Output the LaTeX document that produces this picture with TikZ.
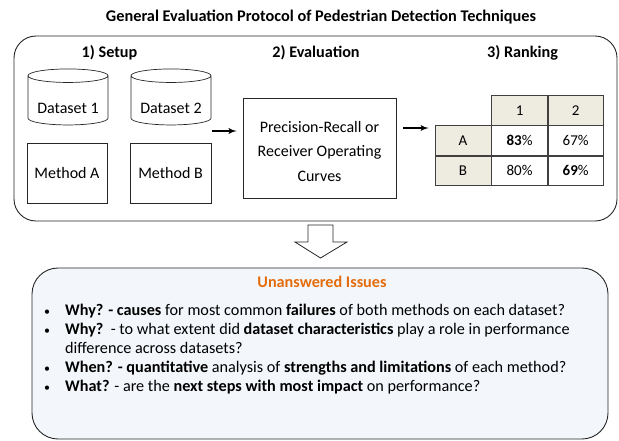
\documentclass[tikz,border=0pt]{standalone}
\usepackage{fontspec}
\setmainfont{Carlito}
\usepackage{xcolor}
\usetikzlibrary{shapes,arrows,calc,positioning}

\definecolor{cellgray}{HTML}{EEECE1}
\definecolor{issuebg}{HTML}{F3F6FB}
\definecolor{issueorange}{HTML}{E46C0A}

\tikzstyle{line} = [draw, line width=1.8pt, -latex']
\tikzstyle{frame} = [draw=black!85, line width=0.9pt, rounded corners=22pt]
\tikzstyle{plainbox} = [draw=black!85, line width=0.7pt, font=\fontsize{16}{18}\selectfont]
\tikzstyle{dbase} = [plainbox, cylinder, shape border rotate=90, aspect=0.22,
   minimum width=80pt, minimum height=56pt, inner sep=0pt]
\tikzstyle{cell} = [draw=black!75, line width=0.6pt, minimum width=56pt,
   minimum height=29.5pt, inner sep=0pt, font=\fontsize{15}{16}\selectfont]
\tikzstyle{headcell} = [cell, fill=cellgray]
\tikzstyle{heading} = [font=\bfseries\fontsize{16.2}{18}\selectfont]
\tikzstyle{issue} = [anchor=base west, inner sep=0pt, font=\fontsize{16.2}{18}\selectfont]
\tikzstyle{dot} = [anchor=base, inner sep=0pt, font=\fontsize{12}{14}\selectfont]

\begin{document}
\begin{tikzpicture}[x=1pt,y=-1pt]

\useasboundingbox (0,0) rectangle (619,440);
%\draw[help lines,step=20] (0,0) grid (619,440);

\node[font=\bfseries\fontsize{16.3}{18}\selectfont] (title) at (321,17)
   {General Evaluation Protocol of Pedestrian Detection Techniques};

% upper frame
\node[frame, minimum width=603pt, minimum height=185pt] (protocol) at (315.5,128.5) {};

\node[heading] (setup) at (109.5,53) {1) Setup};
\node[heading] (evaluation) at (316,53) {2) Evaluation};
\node[heading] (ranking) at (522.5,53) {3) Ranking};

\node[dbase] (dset1) at (68,100.5) {\raisebox{-12.5pt}[0pt][0pt]{Dataset 1}};
\node[dbase] (dset2) at (171,100.5) {\raisebox{-12.5pt}[0pt][0pt]{Dataset 2}};
\node[plainbox, minimum width=80pt, minimum height=60pt] (methA) at (67,173) {Method A};
\node[plainbox, minimum width=81pt, minimum height=60pt] (methB) at (170.5,173) {Method B};

\node[plainbox, minimum width=153pt, minimum height=100pt, align=center,
   font=\fontsize{16}{24.5}\selectfont] (curves) at (319.5,148.5) {};
\node[align=center, font=\fontsize{16}{24.5}\selectfont] (curvestext) at (319.5,151)
   {Precision-Recall or\\Receiver Operating\\Curves};

% ranking table
\node[headcell] (rowA) at (463,140.5) {A};
\node[headcell, below=0pt of rowA] (rowB) {B};
\node[cell, right=0pt of rowA] (a1) {\textbf{83}\%};
\node[cell, right=0pt of a1, minimum width=55pt] (a2) {67\%};
\node[cell, right=0pt of rowB] (b1) {80\%};
\node[cell, right=0pt of b1, minimum width=55pt] (b2) {\textbf{69}\%};
\node[headcell, above=0pt of a1] (col1) {1};
\node[headcell, above=0pt of a2, minimum width=55pt] (col2) {2};

\coordinate (in) at (212,131);
\coordinate (out) at (403,128);
\draw[line, shorten >=6pt] (in) -- (in -| curves.west);
\draw[line, shorten >=6pt] (out) -- (out -| rowA.west);

% lower frame
\node[frame, rounded corners=26pt, fill=issuebg, minimum width=576pt,
   minimum height=171pt] (issues) at (320,353.5) {};

\coordinate (down) at (320.5,225);
\draw[draw=black!85, line width=0.8pt, fill=white]
   ($(down)+(-12.5,0)$) -- ($(down)+(12.5,0)$) -- ($(down)+(12.5,17)$)
   -- ($(down)+(26.5,17)$) -- ($(down)+(0,33)$) -- ($(down)+(-25.5,17)$)
   -- ($(down)+(-12.5,17)$) -- cycle;

\node[font=\bfseries\fontsize{16.2}{18}\selectfont, text=issueorange] (unanswered)
   at (322,282) {Unanswered Issues};

\node[dot] (d1) at (47,315) {•};
\node[issue] (why1) at (65,315) {\textbf{Why? - causes} for most common \textbf{failures} of both methods on each dataset?};
\node[dot] (d2) at (47,334) {•};
\node[issue] (why2) at (65,334) {\textbf{Why?}\ \ - to what extent did \textbf{dataset characteristics} play a role in performance};
\node[issue] (why2b) at (65,353) {difference across datasets?};
\node[dot] (d3) at (47,372) {•};
\node[issue] (when) at (65,372) {\textbf{When? - quantitative} analysis of \textbf{strengths and limitations} of each method?};
\node[dot] (d4) at (47,391) {•};
\node[issue] (what) at (65,391) {\textbf{What?} - are the \textbf{next steps with most impact} on performance?};

\end{tikzpicture}
\end{document}
